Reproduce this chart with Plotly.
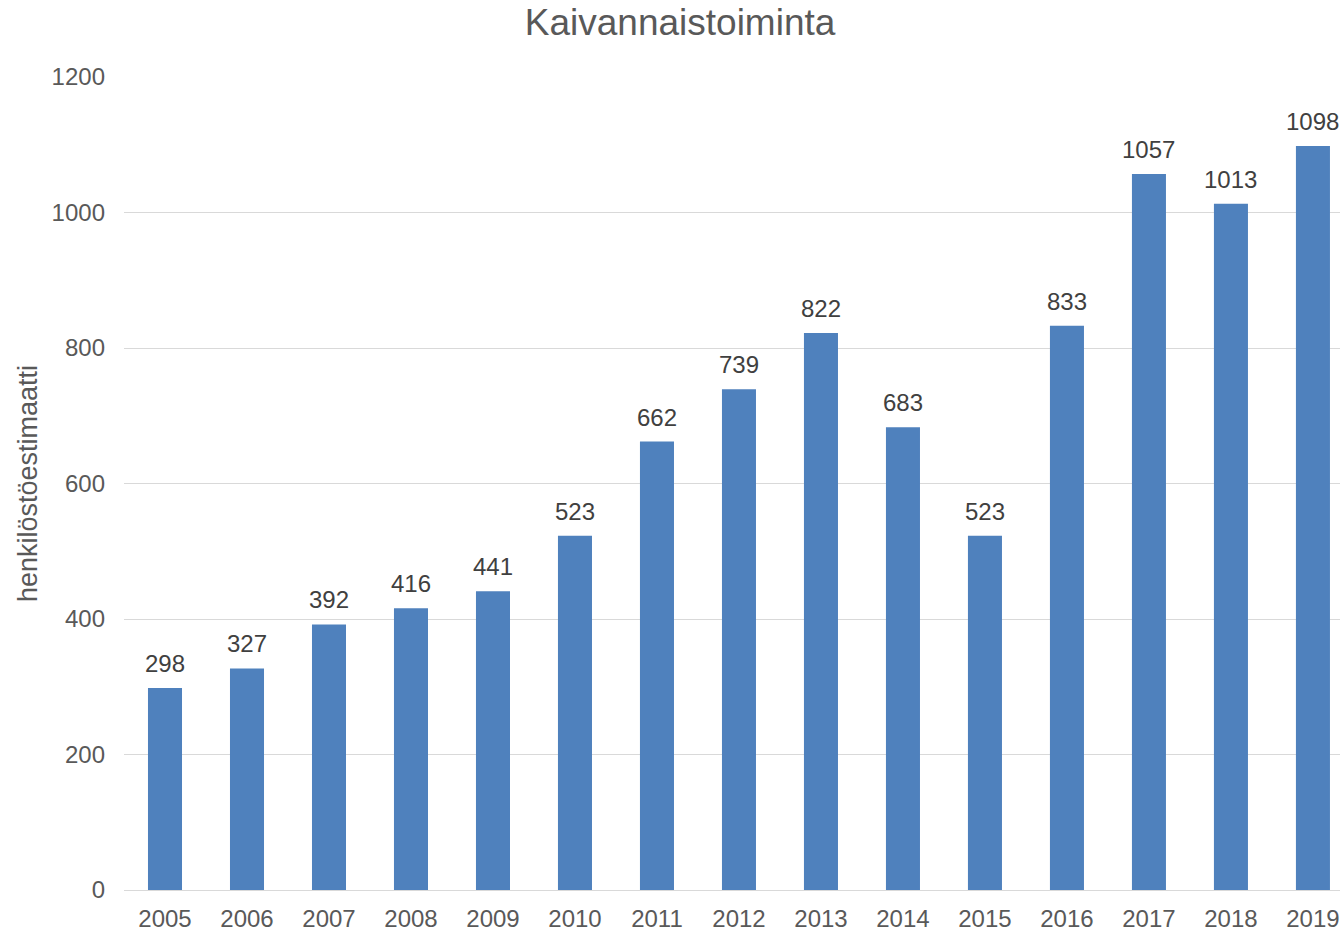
import plotly.graph_objects as go

years = ["2005", "2006", "2007", "2008", "2009", "2010", "2011", "2012",
         "2013", "2014", "2015", "2016", "2017", "2018", "2019"]
values = [298, 327, 392, 416, 441, 523, 662, 739, 822, 683, 523, 833, 1057, 1013, 1098]
title_text = "Kaivannaistoiminta"
y_title = "henkilöstöestimaatti"
y_ticks = [0, 200, 400, 600, 800, 1000, 1200]

FONT = "Liberation Sans, Arial, sans-serif"

fig = go.Figure()
fig.add_trace(go.Bar(
    x=list(range(len(years))), y=values,
    marker=dict(color="#4F81BD", line=dict(width=0)),
    hoverinfo="skip",
))

annotations = []
for i, v in enumerate(values):
    annotations.append(dict(
        x=i, y=v, xref="x", yref="y", text=str(v), showarrow=False,
        yanchor="bottom", yshift=9,
        font=dict(family=FONT, size=24, color="#404040"),
    ))

fig.update_layout(
    width=1340, height=933,
    paper_bgcolor="white", plot_bgcolor="white",
    margin=dict(l=124, r=0, t=77, b=43),
    bargap=0.585,
    showlegend=False,
    title=dict(text=title_text, x=0.5075, xanchor="center", xref="container",
               y=0.9765, yanchor="middle", yref="container",
               font=dict(family=FONT, size=37, color="#595959")),
    annotations=annotations,
    xaxis=dict(
        tickmode="array", tickvals=list(range(len(years))), ticktext=years,
        range=[-0.5, 14.33], showgrid=False, zeroline=False,
        showline=True, linecolor="#D9D9D9", linewidth=1,
        ticks="", ticklabelstandoff=7,
        tickfont=dict(family=FONT, size=24, color="#595959"),
    ),
    yaxis=dict(
        range=[0, 1200], tickvals=y_ticks, showgrid=True, gridcolor="#D9D9D9",
        gridwidth=1, zeroline=False, ticks="", ticklabelstandoff=18,
        tickfont=dict(family=FONT, size=24, color="#595959"),
        title=dict(text=y_title, standoff=6,
                   font=dict(family=FONT, size=27, color="#595959")),
    ),
)

fig.write_html(
    "out.html",
    config={"displayModeBar": False},
    post_script="document.body.style.margin='0';document.body.style.overflow='hidden';",
)
